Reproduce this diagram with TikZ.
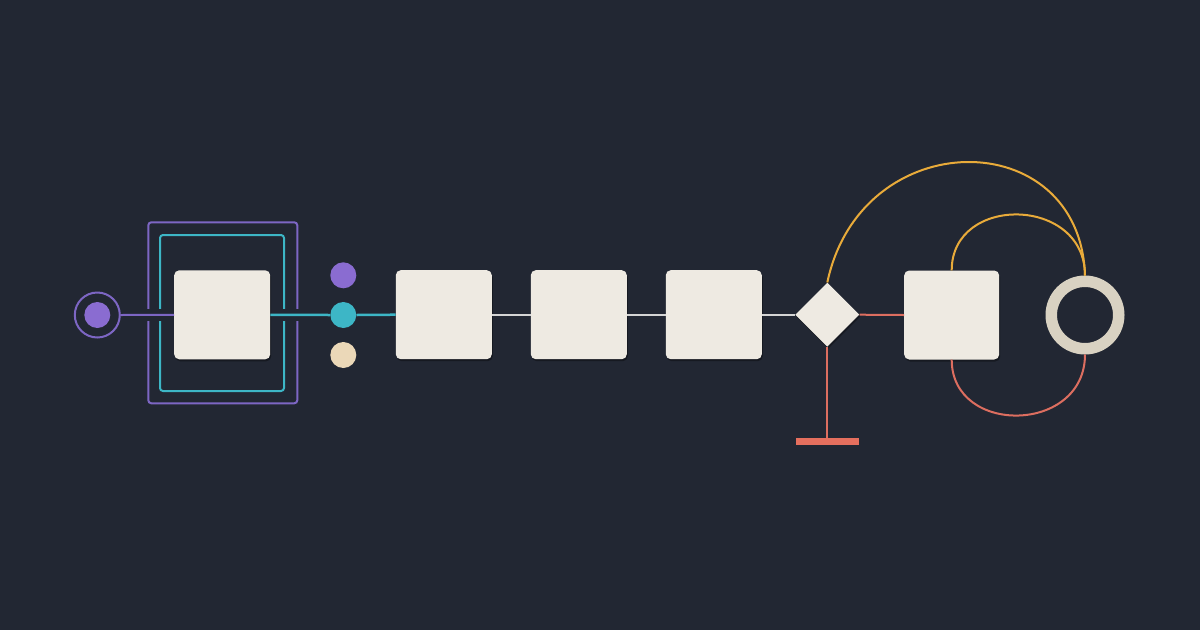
\documentclass[tikz,border=0pt]{standalone}
\usetikzlibrary{shapes.geometric,shadows}
\definecolor{bg}{HTML}{222733}
\definecolor{cream}{HTML}{EEEAE2}
\definecolor{purp}{HTML}{8A6CD1}
\definecolor{purpline}{HTML}{7D66C4}
\definecolor{teal}{HTML}{3DB6C6}
\definecolor{beige}{HTML}{EBD8B8}
\definecolor{greyline}{HTML}{D5D5D5}
\definecolor{redline}{HTML}{DD6E60}
\definecolor{redbar}{HTML}{E56F5E}
\definecolor{yell}{HTML}{E9AB3A}
\definecolor{ringc}{HTML}{D9D2C2}
\tikzset{
  card/.style={rectangle, rounded corners=5pt, fill=cream, inner sep=0pt,
    minimum width=96pt, minimum height=89pt,
    drop shadow={shadow xshift=1pt, shadow yshift=-2pt, opacity=.35, fill=black}},
  dotnode/.style={circle, inner sep=0pt, minimum size=26pt},
  frame/.style={rectangle, rounded corners=3pt, line width=2pt, inner sep=0pt, fill=none},
  eraser/.style={fill=bg, draw=none},
  conn/.style={line width=2pt},
  arc/.style={line width=2pt}
}
\begin{document}
\begin{tikzpicture}[x=1pt,y=-1pt]
\fill[bg] (0,0) rectangle (1200,630);
\useasboundingbox (0,0) rectangle (1200,630);
% nodes
\node[circle, draw=purpline, line width=2pt, inner sep=0pt, minimum size=45pt] (start) at (97.3,315) {};
\node[dotnode, fill=purp] (startdot) at (97.3,315) {};
\node[card] (b1) at (222.2,314.8) {};
\node[frame, draw=purpline, minimum width=149pt, minimum height=181pt] (fo) at (222.8,312.8) {};
\node[frame, draw=teal, minimum width=124pt, minimum height=156pt] (fi) at (222,313) {};
\node[dotnode, fill=purp] (pd) at (343.3,275.3) {};
\node[dotnode, fill=teal] (td) at (343.3,315) {};
\node[dotnode, fill=beige] (cd) at (343.3,355) {};
\node[card] (b2) at (443.8,314.7) {};
\node[card] (b3) at (578.8,314.7) {};
\node[card] (b4) at (713.8,314.7) {};
\node[diamond, aspect=1, fill=cream, inner sep=0pt, minimum width=64pt, minimum height=64pt,
  drop shadow={shadow xshift=1pt, shadow yshift=-2pt, opacity=.35, fill=black}] (dia) at (827.3,314.7) {};
\node[card, minimum width=95pt] (b5) at (951.7,315) {};
\node[circle, draw=ringc, line width=11.5pt, inner sep=0pt, minimum size=67.5pt] (ring) at (1085,315) {};
\node[rectangle, fill=redbar, inner sep=0pt, minimum width=63pt, minimum height=7pt] (bar) at (827.3,441.3) {};
% gaps in frames
\fill[eraser] (144,309) rectangle (153,321);
\fill[eraser] (156,309) rectangle (164,321);
\fill[eraser] (280,309) rectangle (288,321);
\fill[eraser] (292,309) rectangle (302,321);
% connectors
\draw[conn, purpline] (start.east) -- (b1.west);
\draw[conn, teal, line width=2.5pt] (b1.east) -- (td.west);
\draw[conn, teal, line width=2.5pt] (td.east) -- (b2.west);
\draw[conn, greyline] (b2.east) -- (b3.west);
\draw[conn, greyline] (b3.east) -- (b4.west);
\draw[conn, greyline] (b4.east) -- (dia.west);
\draw[conn, redline] (dia.east) -- (b5.west);
\draw[conn, redline] (dia.south) -- (bar.north);
\draw[arc, yell] (dia.north) .. controls (861,123) and (1080,123) .. (ring.north);
\draw[arc, yell] (b5.north) .. controls (951.7,194) and (1085,196) .. (ring.north);
\draw[arc, redline] (b5.south) .. controls (951.7,436) and (1085,434) .. (ring.south);
\end{tikzpicture}
\end{document}
